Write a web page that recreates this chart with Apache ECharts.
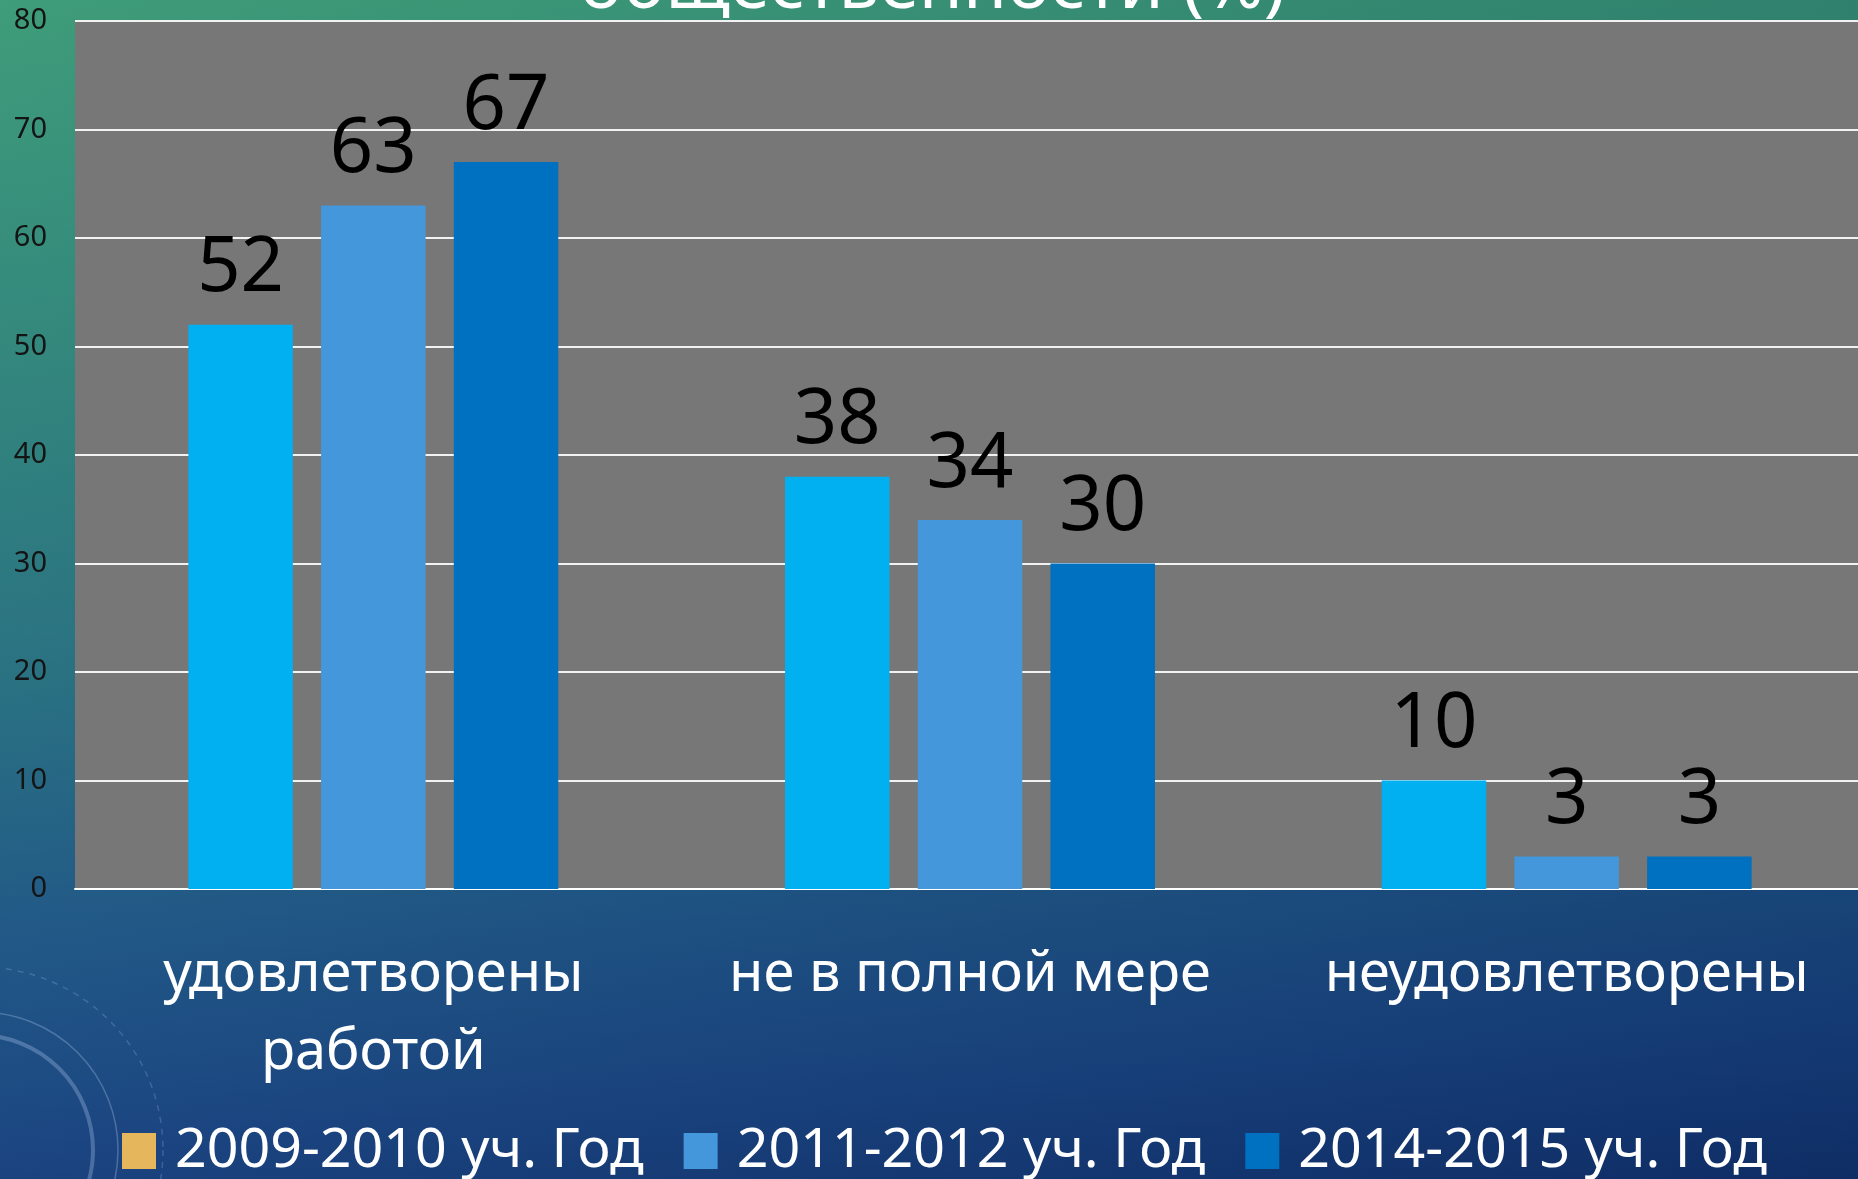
<!DOCTYPE html>
<html>
<head>
<meta charset="utf-8">
<script src="https://cdn.jsdelivr.net/npm/echarts@6/dist/echarts.min.js"></script>
<style>
  html, body { margin: 0; padding: 0; width: 1858px; height: 1179px; overflow: hidden; }
  #bg {
    position: absolute; left: 0; top: 0; width: 1858px; height: 1179px;
    background:
      linear-gradient(to right, rgba(255,255,255,0.02), rgba(0,0,30,0.12)),
      linear-gradient(176deg, #3B9B77 0%, #30877A 25%, #266F80 52%, #1D5585 72%, #17427F 88%, #11336F 100%);
  }
  #chart { position: absolute; left: 0; top: 0; width: 1865px; height: 1179px; }
</style>
</head>
<body>
<div id="bg"></div>
<div id="chart"></div>
<script>
const titleText = 'общественности (%)';
const categories = ['удовлетворены\nработой', 'не в полной мере', 'неудовлетворены'];
const seriesNames = ['2009-2010 уч. Год', '2011-2012 уч. Год', '2014-2015 уч. Год'];
const values2009 = [52, 38, 10];
const values2011 = [63, 34, 3];
const values2014 = [67, 30, 3];
const yTicks = [0, 10, 20, 30, 40, 50, 60, 70, 80];

const barColors = ['#00B0F0', '#4397DA', '#0070C0'];
const legendColors = ['#E6B65C', '#4397DA', '#0070C0'];
const FONT = '"Noto Sans", sans-serif';

const chart = echarts.init(document.getElementById('chart'), null, { renderer: 'canvas' });

const seriesData = [values2009, values2011, values2014];

const decoStroke = 'rgba(200,220,255,0.28)';

const option = {
  backgroundColor: 'transparent',
  animation: false,
  graphic: [
    { type: 'circle', z: -10, silent: true, shape: { cx: -22, cy: 1150, r: 115 },
      style: { fill: 'none', stroke: decoStroke, lineWidth: 4 } },
    { type: 'circle', z: -10, silent: true, shape: { cx: -20, cy: 1150, r: 138 },
      style: { fill: 'none', stroke: decoStroke, lineWidth: 1.5 } },
    { type: 'circle', z: -10, silent: true, shape: { cx: -20, cy: 1150, r: 183 },
      style: { fill: 'none', stroke: 'rgba(200,220,255,0.2)', lineWidth: 1.5, lineDash: [6, 6] } }
  ],
  title: {
    text: titleText,
    left: 'center',
    top: -54,
    textStyle: { color: '#FFFFFF', fontFamily: FONT, fontSize: 72, fontWeight: 'normal', lineHeight: 72 }
  },
  grid: {
    left: 75, right: 0, top: 21, bottom: 290,
    show: true, backgroundColor: '#777777', borderWidth: 0
  },
  legend: {
    left: 122, top: 1123, padding: 0,
    itemWidth: 34, itemHeight: 36, itemGap: 40,
    icon: 'rect',
    data: seriesNames.map((n, i) => ({ name: n, itemStyle: { color: legendColors[i] } })),
    textStyle: { color: '#FFFFFF', fontFamily: FONT, fontSize: 55.5, lineHeight: 56, padding: [0, 0, 0, 14] }
  },
  xAxis: {
    type: 'category',
    data: categories,
    axisLine: { show: true, lineStyle: { color: '#FFFFFF', width: 2 } },
    axisTick: { show: false },
    axisLabel: {
      color: '#FFFFFF', fontFamily: FONT, fontSize: 56, lineHeight: 78, margin: 47,
      interval: 0
    }
  },
  yAxis: {
    type: 'value',
    min: yTicks[0], max: yTicks[yTicks.length - 1], interval: 10,
    axisLine: { show: false },
    axisTick: { show: false },
    splitLine: { show: true, lineStyle: { color: '#F2F2F2', width: 2 } },
    axisLabel: { color: '#141414', fontFamily: FONT, fontSize: 29, margin: 28 }
  },
  series: seriesNames.map((n, i) => ({
    name: n,
    type: 'bar',
    data: seriesData[i],
    barGap: '27%',
    barCategoryGap: '38%',
    itemStyle: { color: barColors[i] },
    label: {
      show: true, position: 'top', distance: 17,
      color: '#000000', fontFamily: FONT, fontSize: 76, lineHeight: 76
    }
  }))
};
chart.setOption(option);
</script>
</body>
</html>
